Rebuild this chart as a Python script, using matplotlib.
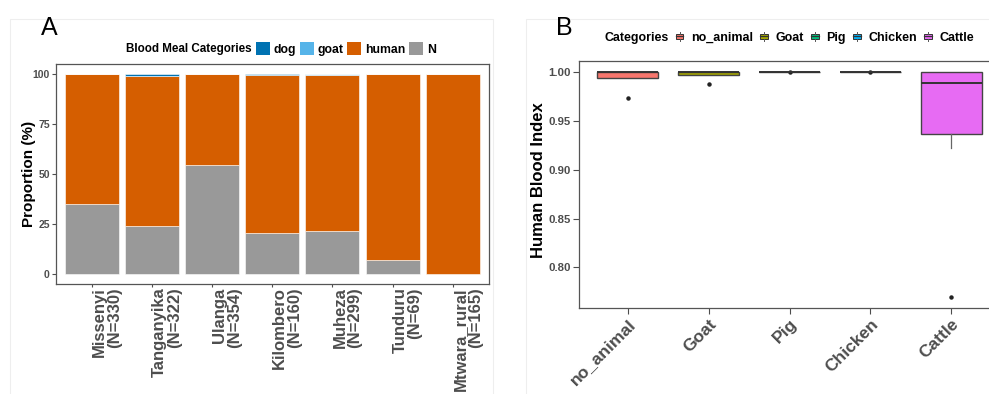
import matplotlib
matplotlib.use('Agg')
import matplotlib.pyplot as plt
import numpy as np
from matplotlib.patches import Patch, Rectangle
from matplotlib.lines import Line2D
from matplotlib.legend_handler import HandlerBase

plt.rcParams['font.family'] = ['Liberation Sans', 'DejaVu Sans']

# ---------------- Panel A data ----------------
sites = ['Missenyi', 'Tanganyika', 'Ulanga', 'Kilombero', 'Muheza', 'Tunduru', 'Mtwara_rural']
site_n = [330, 322, 354, 160, 299, 69, 165]
pct_N = [35.0, 24.2, 54.5, 20.4, 21.4, 7.2, 0.0]
pct_human = [65.0, 74.8, 45.5, 79.0, 77.9, 92.8, 100.0]
pct_goat = [0.0, 0.0, 0.0, 0.0, 0.7, 0.0, 0.0]
pct_dog = [0.0, 1.0, 0.0, 0.6, 0.0, 0.0, 0.0]
meal_labels = ['dog', 'goat', 'human', 'N']
meal_colors = ['#0072B2', '#56B4E9', '#D55E00', '#999999']
a_yticks = [0, 25, 50, 75, 100]

# ---------------- Panel B data ----------------
animals = ['no_animal', 'Goat', 'Pig', 'Chicken', 'Cattle']
animal_colors = ['#F8766D', '#A3A500', '#00BF7D', '#00B0F6', '#E76BF3']
hbi_q1 = [0.9936, 0.9972, 1.0, 1.0, 0.937]
hbi_med = [1.0, 1.0, 1.0, 1.0, 0.9888]
hbi_q3 = [1.0, 1.0, 1.0, 1.0, 1.0]
hbi_whislo = [0.9936, 0.9972, 1.0, 1.0, 0.922]
hbi_whishi = [1.0, 1.0, 1.0, 1.0, 1.0]
hbi_fliers = [[0.974], [0.9875], [1.0], [1.0], [0.770]]
b_yticks = [0.80, 0.85, 0.90, 0.95, 1.00]

W, H = 989, 394
fig = plt.figure(figsize=(W / 100, H / 100), dpi=100)

def fx(px):
    return px / W

def fy(py):
    return 1 - py / H

# faint panel borders
fig.add_artist(Rectangle((fx(10), fy(400)), fx(483), fy(19) - fy(400), transform=fig.transFigure,
                         fill=False, edgecolor='#EEEEEE', lw=0.8))
fig.add_artist(Rectangle((fx(526), fy(400)), fx(480), fy(19) - fy(400), transform=fig.transFigure,
                         fill=False, edgecolor='#EEEEEE', lw=0.8))

GRAY = '#4D4D4D'

# ---------------- Panel A ----------------
axA = fig.add_axes([fx(56), fy(284), fx(432.7), fy(64) - fy(284)])
x = np.arange(1, len(sites) + 1)
stack = [pct_N, pct_human, pct_goat, pct_dog]
stack_cols = [meal_colors[3], meal_colors[2], meal_colors[1], meal_colors[0]]
bottom = np.zeros(len(sites))
for vals, col in zip(stack, stack_cols):
    vals = np.array(vals)
    axA.bar(x, vals, bottom=bottom, width=0.9, color=col, edgecolor='white', linewidth=0.4)
    bottom += vals
axA.set_xlim(0.4, len(sites) + 0.6)
axA.set_ylim(-5, 105)
axA.set_yticks(a_yticks)
axA.set_yticklabels([str(v) for v in a_yticks], fontsize=7.5, fontweight='bold', color=GRAY)
axA.set_xticks(x)
axA.set_xticklabels([f'{s}\n(N={n})' for s, n in zip(sites, site_n)], rotation=90,
                    ha='left', va='top', multialignment='right', fontsize=12,
                    fontweight='bold', color=GRAY, linespacing=1.0)
axA.tick_params(axis='x', length=2.5, width=0.8, color=GRAY, pad=0)
axA.tick_params(axis='y', length=3, width=0.8, color=GRAY, pad=1.5)
for sp in axA.spines.values():
    sp.set_color('#555555')
    sp.set_linewidth(0.9)
axA.set_ylabel('Proportion (%)', fontsize=11, fontweight='bold')
axA.yaxis.set_label_coords((36 - 56) / 432.7, 0.5)

fig.text(fx(41), fy(35), 'A', fontsize=18, ha='left', va='baseline')

# legend A
fig.text(fx(252), fy(49), 'Blood Meal Categories', fontsize=8.4, fontweight='bold',
         ha='right', va='center')
handlesA = [Patch(facecolor=c, edgecolor='none') for c in meal_colors]
legA = fig.legend(handlesA, meal_labels, loc='center left', bbox_to_anchor=(fx(256), fy(49)),
                  ncol=4, frameon=False, handlelength=1.15, handleheight=1.15,
                  handletextpad=0.3, columnspacing=0.3, borderpad=0, borderaxespad=0,
                  prop={'weight': 'bold', 'size': 8.8})

# ---------------- Panel B ----------------
axB = fig.add_axes([fx(579), fy(308), fx(421), fy(61) - fy(308)])
stats = []
for i in range(len(animals)):
    stats.append(dict(med=hbi_med[i], q1=hbi_q1[i], q3=hbi_q3[i], whislo=hbi_whislo[i],
                      whishi=hbi_whishi[i], fliers=hbi_fliers[i], label=animals[i]))
bp = axB.bxp(stats, positions=np.arange(1, len(animals) + 1), widths=0.75, patch_artist=True,
             showcaps=False,
             boxprops=dict(edgecolor='#444444', linewidth=1.0),
             medianprops=dict(color='#333333', linewidth=1.4),
             whiskerprops=dict(color='#666666', linewidth=0.9),
             flierprops=dict(marker='o', markersize=2.2, markerfacecolor='#222222',
                             markeredgecolor='#222222', linestyle='none'))
for patch, c in zip(bp['boxes'], animal_colors):
    patch.set_facecolor(c)
axB.set_xlim(0.4, len(animals) + 0.6)
axB.set_ylim(0.7585, 1.0115)
axB.set_yticks(b_yticks)
axB.set_yticklabels([f'{v:.2f}' for v in b_yticks], fontsize=8.2, fontweight='bold', color=GRAY)
axB.set_xticks(np.arange(1, len(animals) + 1))
axB.set_xticklabels(animals, rotation=45, ha='right', va='top', rotation_mode='anchor',
                    fontsize=12.5, fontweight='bold', color=GRAY)
axB.tick_params(axis='both', length=4, width=0.8, color=GRAY, pad=2)
for sp in axB.spines.values():
    sp.set_color('#555555')
    sp.set_linewidth(0.9)
axB.set_ylabel('Human Blood Index', fontsize=12, fontweight='bold')
axB.yaxis.set_label_coords((546 - 579) / 421, 0.518)

fig.text(fx(556), fy(35), 'B', fontsize=18, ha='left', va='baseline')


class BoxKey(Patch):
    pass


class HandlerBox(HandlerBase):
    def create_artists(self, legend, orig_handle, xdescent, ydescent, width, height,
                       fontsize, trans):
        cx = -xdescent + width / 2
        y0 = -ydescent
        bw = width * 0.5
        bh = height * 0.55
        by = y0 + (height - bh) / 2
        rect = Rectangle((cx - bw / 2, by), bw, bh, facecolor=orig_handle.get_facecolor(),
                         edgecolor='#333333', linewidth=0.7, transform=trans)
        med = Line2D([cx - bw / 2, cx + bw / 2], [by + bh / 2] * 2, color='#333333',
                     linewidth=0.9, transform=trans)
        w1 = Line2D([cx, cx], [by + bh, y0 + height], color='#555555', linewidth=0.7,
                    transform=trans)
        w2 = Line2D([cx, cx], [y0, by], color='#555555', linewidth=0.7, transform=trans)
        return [rect, med, w1, w2]


fig.text(fx(669), fy(37.7), 'Categories', fontsize=8.9, fontweight='bold', ha='right', va='center')
handlesB = [BoxKey(facecolor=c) for c in animal_colors]
legB = fig.legend(handlesB, animals, loc='center left', bbox_to_anchor=(fx(672), fy(37.7)),
                  ncol=5, frameon=False, handlelength=1.2, handleheight=0.8,
                  handletextpad=0.3, columnspacing=0.3, borderpad=0, borderaxespad=0,
                  prop={'weight': 'bold', 'size': 9},
                  handler_map={BoxKey: HandlerBox()})

fig.savefig('out.png', dpi=100)
